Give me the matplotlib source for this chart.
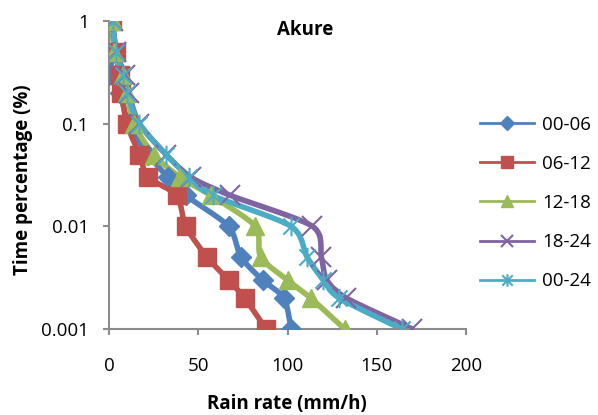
import numpy as np
import matplotlib
matplotlib.use("Agg")
import matplotlib.pyplot as plt
from matplotlib.lines import Line2D
from matplotlib.path import Path

plt.rcParams['font.family'] = ['Open Sans', 'DejaVu Sans']

time_pct = [1, 0.5, 0.3, 0.2, 0.1, 0.05, 0.03, 0.02, 0.01, 0.005, 0.003, 0.002, 0.001]
s_00_06 = [1, 3, 0, 6, 11, 22, 33, 43, 67, 74, 86, 98, 102]
s_06_12 = [1.5, 4, 6, 7, 10, 17, 22, 38, 43, 55, 67, 76, 88]
s_12_18 = [2, 3, 8, 10, 14, 25, 40, 57, 82, 85, 100, 113, 132]
s_18_24 = [2, 4, 9, 11, 17, 32, 46, 68, 114, 119, 122, 133, 170]
s_00_24 = [2, 4, 8, 10, 17, 32, 45, 58, 102, 111, 120, 129, 164]
labels = ["00-06", "06-12", "12-18", "18-24", "00-24"]
colors = ["#4F81BD", "#C0504D", "#9BBB59", "#8064A2", "#4BACC6"]
series = [s_00_06, s_06_12, s_12_18, s_18_24, s_00_24]

# Excel-style asterisk marker (x with a vertical bar)
star = Path([(-1, -1), (1, 1), (-1, 1), (1, -1), (0, -1.2), (0, 1.2)],
            [Path.MOVETO, Path.LINETO, Path.MOVETO, Path.LINETO, Path.MOVETO, Path.LINETO])
markers = ["D", "s", "^", "x", star]
msizes = [10, 13, 13, 14, 14]
lmsizes = [7, 9, 9, 9, 9]

fig = plt.figure(figsize=(5.98, 4.15), dpi=100)
ax = fig.add_axes([109/598, 1 - 329/415, (466-109)/598, (329-21)/415])


def smooth(x, y, n=20):
    # cardinal spline in screen-like coordinates (Excel-style smoothed line)
    u = np.asarray(x, float) / 200 * 357
    v = -np.log10(np.asarray(y, float)) * 102.7
    P = np.column_stack([u, v])
    P = np.vstack([P[0], P, P[-1]])
    out = []
    t = np.linspace(0, 1, n, endpoint=False)
    for i in range(1, len(P) - 2):
        p0, p1, p2, p3 = P[i-1], P[i], P[i+1], P[i+2]
        m1 = 0.5 * (p2 - p0) * 0.8
        m2 = 0.5 * (p3 - p1) * 0.8
        h00 = 2*t**3 - 3*t**2 + 1
        h10 = t**3 - 2*t**2 + t
        h01 = -2*t**3 + 3*t**2
        h11 = t**3 - t**2
        seg = (np.outer(h00, p1) + np.outer(h10, m1) + np.outer(h01, p2) + np.outer(h11, m2))
        out.append(seg)
    out.append(P[-2][None, :])
    S = np.vstack(out)
    xs = S[:, 0] / 357 * 200
    ys = 10 ** (-S[:, 1] / 102.7)
    return xs, ys


def is_line_marker(m):
    return not isinstance(m, str) or m == "x"

for s, c, m, ms in zip(series, colors, markers, msizes):
    xs, ys = smooth(s, time_pct)
    ax.plot(xs, ys, color=c, lw=4, solid_capstyle='round', zorder=2)
    if is_line_marker(m):
        ax.plot(s, time_pct, linestyle='none', marker=m, color=c, markersize=ms,
                markeredgewidth=1.5, markerfacecolor='none', zorder=3)
    else:
        ax.plot(s, time_pct, linestyle='none', marker=m, color=c, markersize=ms, zorder=3)

ax.set_yscale('log')
ax.set_xlim(0, 200)
ax.set_ylim(0.001, 1)
ax.set_xticks([0, 50, 100, 150, 200])
ax.set_xticklabels(["0", "50", "100", "150", "200"])
ax.set_yticks([0.001, 0.01, 0.1, 1])
ax.set_yticklabels(["0.001", "0.01", "0.1", "1"])
ax.yaxis.set_minor_locator(matplotlib.ticker.NullLocator())
for sp in ["top", "right"]:
    ax.spines[sp].set_visible(False)
for sp in ["left", "bottom"]:
    ax.spines[sp].set_color("#8C8C8C")
    ax.spines[sp].set_linewidth(1.5)
ax.tick_params(axis='both', colors='#8C8C8C', labelcolor='black', labelsize=13.5,
               length=4.5, width=1.5)
ax.tick_params(axis='x', pad=16)
ax.tick_params(axis='y', pad=10)

fig.text(287/598, 1 - 404/415, "Rain rate (mm/h)", fontsize=13.5, fontweight='bold',
         ha='center', va='center')
fig.text(23/598, 1 - 180/415, "Time percentage (%)", rotation=90, fontsize=13.5,
         fontweight='bold', ha='center', va='center')
fig.text(305/598, 1 - 30/415, "Akure", fontsize=13.5, fontweight='bold',
         ha='center', va='center')

handles = []
for c, m, ms in zip(colors, markers, lmsizes):
    if is_line_marker(m):
        h = Line2D([], [], color=c, lw=2, marker=m, markersize=ms, markeredgewidth=1.5,
                   markerfacecolor='none')
    else:
        h = Line2D([], [], color=c, lw=2, marker=m, markersize=ms)
    handles.append(h)
fig.legend(handles, labels, loc='center left', bbox_to_anchor=(480/598, 1 - 203/415),
           frameon=False, fontsize=13.5, handlelength=2.9, labelspacing=1.13,
           handletextpad=0.4, borderaxespad=0, borderpad=0)

fig.savefig("out.png", dpi=100)
